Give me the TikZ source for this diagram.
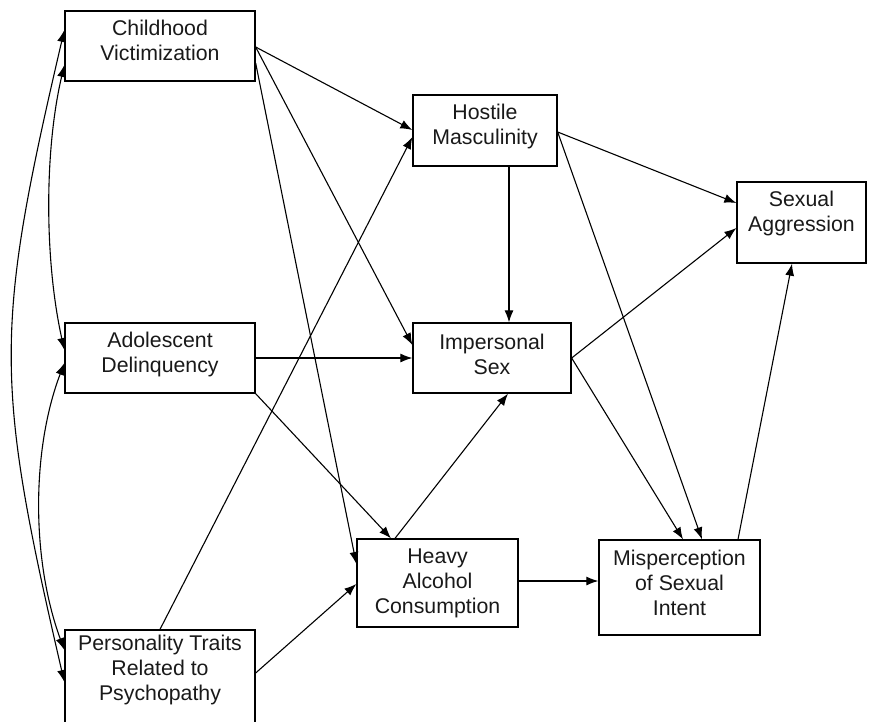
\documentclass[tikz,border=0pt]{standalone}
\usepackage{fontspec}
\setmainfont{Liberation Sans}
\usetikzlibrary{arrows.meta}
\begin{document}
\begin{tikzpicture}[x=1pt,y=-1pt,
  box/.style={draw, line width=1.3pt, inner sep=0pt, fill=none},
  lbl/.style={font=\fontsize{21.3}{25}\selectfont, align=center, text=black!90, inner sep=0pt},
  arr/.style={line width=1.1pt, -{Latex[length=12pt,width=9pt]}},
  dbl/.style={line width=1.1pt, {Latex[length=12pt,width=9pt]}-{Latex[length=12pt,width=9pt]}}]
\useasboundingbox (0,0) rectangle (869,721);
\clip (0,0) rectangle (869,721);
% boxes
\node[box, minimum width=190pt, minimum height=70pt] (child) at (160,46) {};
\node[box, minimum width=190pt, minimum height=70pt] (adol) at (160,358) {};
\node[box, minimum width=190pt, minimum height=130pt] (pers) at (160,695) {};
\node[box, minimum width=144pt, minimum height=71pt] (host) at (485,130.5) {};
\node[box, minimum width=158pt, minimum height=70pt] (imp) at (492,358) {};
\node[box, minimum width=129pt, minimum height=81pt] (sexag) at (801.5,222.5) {};
\node[box, minimum width=161pt, minimum height=88pt] (heavy) at (437.5,583) {};
\node[box, minimum width=161pt, minimum height=95pt] (misp) at (679.5,587.5) {};
% labels
\node[lbl] (tchild) at (160,40.5) {Childhood\\Victimization};
\node[lbl] (tadol) at (160,354) {Adolescent\\Delinquency};
\node[lbl] (tpers) at (160,670) {Personality Traits\\Related to\\Psychopathy};
\node[lbl] (thost) at (485,126.5) {Hostile\\Masculinity};
\node[lbl] (timp) at (492,354) {Impersonal\\Sex};
\node[lbl] (tsexag) at (801.5,213.5) {Sexual\\Aggression};
\node[lbl] (theavy) at (437.5,583) {Heavy\\Alcohol\\Consumption};
\node[lbl] (tmisp) at (679.5,583) {Misperception\\of Sexual\\Intent};
% paths
\draw[arr] ([yshift=-1pt]child.east) -- ([yshift=0.5pt]host.west);
\draw[arr] ([yshift=-1pt]child.east) -- ([yshift=13pt]imp.west);
\draw[arr] ([yshift=-17pt]child.east) -- ([yshift=19pt]heavy.west);
\draw[arr] (adol.east) -- (imp.west);
\draw[arr] (adol.south east) -- ([xshift=-46.5pt]heavy.north);
\draw[arr] (pers.north) -- ([yshift=-6.5pt]host.west);
\draw[arr] ([yshift=22pt]pers.east) -- ([yshift=-1pt]heavy.west);
\draw[arr] ([xshift=24pt]host.south) -- ([xshift=17pt]imp.north);
\draw[arr] ([yshift=-1.5pt]host.east) -- ([yshift=19.5pt]sexag.west);
\draw[arr] ([yshift=-1.5pt]host.east) -- ([xshift=22.5pt]misp.north);
\draw[arr] (imp.east) -- ([yshift=-5.5pt]sexag.west);
\draw[arr] (imp.east) -- ([xshift=3.5pt]misp.north);
\draw[arr] ([xshift=-42.5pt]heavy.north) -- ([xshift=16pt]imp.south);
\draw[arr] ([yshift=2pt]heavy.east) -- ([yshift=6.5pt]misp.west);
\draw[arr] ([xshift=58.5pt]misp.north) -- ([xshift=-9.5pt]sexag.south);
% correlations
\draw[dbl] ([yshift=-19pt]child.west) .. controls +(-20,85) and +(-20,-90) .. ([yshift=8pt]adol.west);
\draw[dbl] ([yshift=16pt]child.west) .. controls +(-70,300) and +(-70,-302) .. ([yshift=13pt]pers.west);
\draw[dbl] ([yshift=-5pt]adol.west) .. controls +(-33,87) and +(-33,-90) .. ([yshift=45pt]pers.west);
\end{tikzpicture}
\end{document}
